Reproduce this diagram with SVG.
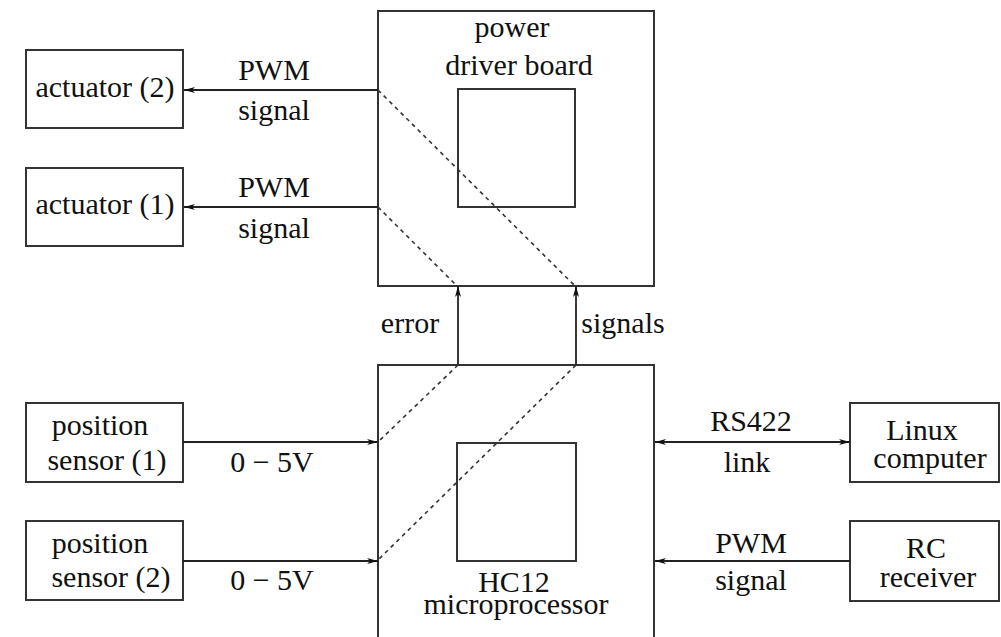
<svg xmlns="http://www.w3.org/2000/svg" width="1001" height="637" viewBox="0 0 1001 637">
<style>
.box{fill:none;stroke:#333;stroke-width:2}
.ln{fill:none;stroke:#222;stroke-width:1.8}
.dash{fill:none;stroke:#333;stroke-width:1.6;stroke-dasharray:4,4}
.t{font-family:'Liberation Serif','Times New Roman','Nimbus Roman','DejaVu Serif',serif;font-size:30px;fill:#111;text-anchor:middle}
</style>
<defs>
<marker id="ah" markerWidth="12" markerHeight="8" refX="11" refY="4" orient="auto-start-reverse" markerUnits="userSpaceOnUse">
<path d="M0,1 L11,4 L0,7 L3,4 Z" fill="#111"/>
</marker>
</defs>
<g id="power-driver-board">
<rect class="box" x="378" y="11" width="276" height="275"/>
<rect class="box" x="458" y="89" width="117" height="118"/>
<text class="t" x="512" y="37">power</text>
<text class="t" x="519" y="75">driver board</text>
</g>
<g id="hc12">
<rect class="box" x="378" y="365" width="276" height="290"/>
<rect class="box" x="457" y="443" width="119" height="118"/>
<text class="t" x="514" y="592">HC12</text>
<text class="t" x="516" y="614">microprocessor</text>
</g>
<g id="actuator-2">
<rect class="box" x="26" y="50" width="157" height="78"/>
<text class="t" x="105" y="97">actuator (2)</text>
</g>
<g id="actuator-1">
<rect class="box" x="26" y="168" width="157" height="78"/>
<text class="t" x="105" y="214">actuator (1)</text>
</g>
<g id="position-sensor-1">
<rect class="box" x="26" y="403" width="157" height="79"/>
<text class="t" x="100" y="435">position</text>
<text class="t" x="107" y="470">sensor (1)</text>
</g>
<g id="position-sensor-2">
<rect class="box" x="26" y="521" width="157" height="79"/>
<text class="t" x="100" y="553">position</text>
<text class="t" x="111" y="587">sensor (2)</text>
</g>
<g id="linux-computer">
<rect class="box" x="850" y="403" width="149" height="79"/>
<text class="t" x="922" y="440">Linux</text>
<text class="t" x="930" y="468">computer</text>
</g>
<g id="rc-receiver">
<rect class="box" x="850" y="521" width="149" height="80"/>
<text class="t" x="926" y="558">RC</text>
<text class="t" x="928" y="587">receiver</text>
</g>
<g id="connectors">
<line class="ln" x1="378" y1="90" x2="184" y2="90" marker-end="url(#ah)"/>
<line class="ln" x1="378" y1="207" x2="184" y2="207" marker-end="url(#ah)"/>
<line class="ln" x1="458" y1="365" x2="458" y2="286" marker-end="url(#ah)"/>
<line class="ln" x1="576" y1="365" x2="576" y2="286" marker-end="url(#ah)"/>
<line class="ln" x1="183" y1="442" x2="378" y2="442" marker-end="url(#ah)"/>
<line class="ln" x1="183" y1="561" x2="378" y2="561" marker-end="url(#ah)"/>
<line class="ln" x1="655" y1="442" x2="850" y2="442" marker-start="url(#ah)" marker-end="url(#ah)"/>
<line class="ln" x1="850" y1="561" x2="655" y2="561" marker-end="url(#ah)"/>
<line class="dash" x1="378" y1="90" x2="575" y2="286"/>
<line class="dash" x1="378" y1="207" x2="457" y2="286"/>
<line class="dash" x1="458" y1="365" x2="378" y2="442"/>
<line class="dash" x1="576" y1="365" x2="378" y2="560"/>
<text class="t" x="274" y="80">PWM</text>
<text class="t" x="274" y="120">signal</text>
<text class="t" x="274" y="197">PWM</text>
<text class="t" x="274" y="238">signal</text>
<text class="t" x="410" y="333">error</text>
<text class="t" x="623" y="333">signals</text>
<text class="t" x="272" y="472">0 − 5V</text>
<text class="t" x="272" y="590">0 − 5V</text>
<text class="t" x="751" y="431">RS422</text>
<text class="t" x="747" y="472">link</text>
<text class="t" x="751" y="553">PWM</text>
<text class="t" x="751" y="590">signal</text>
</g>
</svg>
